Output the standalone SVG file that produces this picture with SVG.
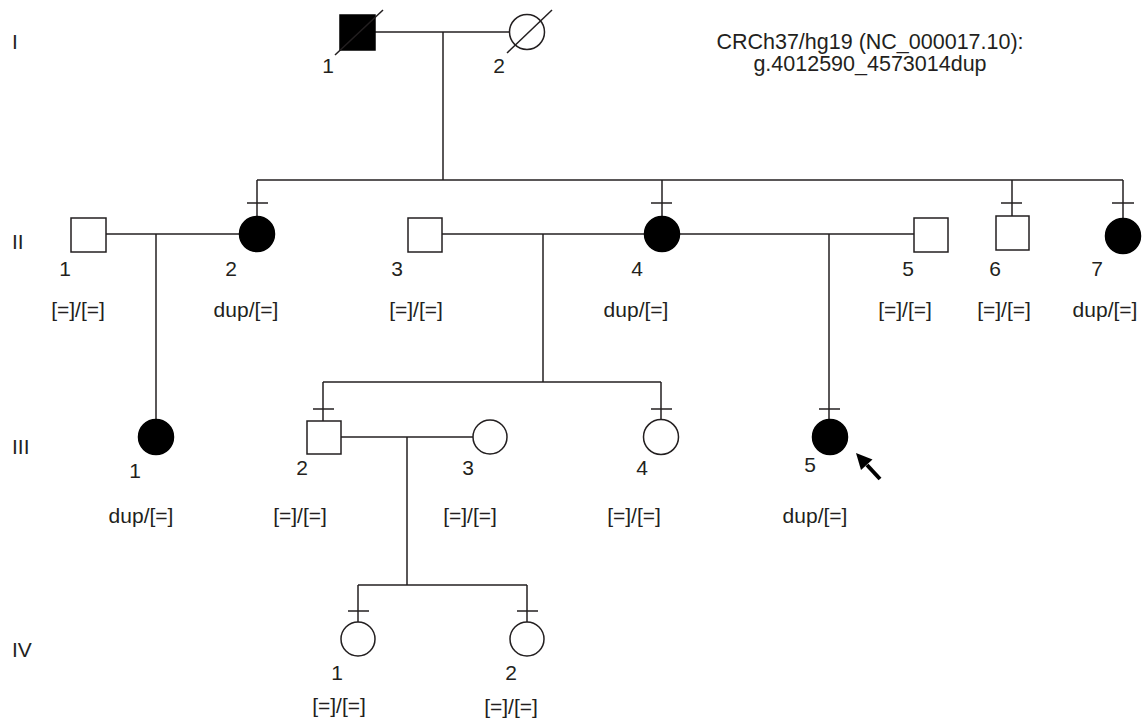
<svg xmlns="http://www.w3.org/2000/svg" width="1142" height="719" viewBox="0 0 1142 719">
<defs>
<style>
text{font-family:"Liberation Sans",Arial,sans-serif;font-size:21px;fill:#231f20}
.c{text-anchor:middle}
.big{font-size:21.5px}
.ln{stroke:#231f20;stroke-width:1.5;fill:none}
.m{fill:#fff;stroke:#231f20;stroke-width:1.5}
.a{fill:#000;stroke:#000;stroke-width:1.5}
</style>
</defs>
<rect width="1142" height="719" fill="#fff"/>
<g id="generations">
<text x="12" y="49">I</text>
<text x="12" y="249">II</text>
<text x="12" y="454">III</text>
<text x="12" y="657">IV</text>
</g>
<g id="variant-label">
<text class="c big" x="870" y="49">CRCh37/hg19 (NC_000017.10):</text>
<text class="c big" x="870" y="71">g.4012590_4573014dup</text>
</g>
<g id="connectors" class="ln">
<path d="M375,32 H510"/>
<path d="M443,32 V180"/>
<path d="M257,180 H1123"/>
<path d="M257,180 V216"/><path d="M247,203 H268"/>
<path d="M662,180 V216"/><path d="M651,203 H672"/>
<path d="M1012,180 V216"/><path d="M1001,203 H1022"/>
<path d="M1123,180 V218"/><path d="M1112,203 H1134"/>
<path d="M106,234 H240"/>
<path d="M156,234 V420"/>
<path d="M442,234 H645"/>
<path d="M543,234 V382"/>
<path d="M679,234 H914"/>
<path d="M829,234 V420"/><path d="M819,409 H840"/>
<path d="M323,382 H661"/>
<path d="M323,382 V421"/><path d="M313,409 H334"/>
<path d="M661,382 V420"/><path d="M651,409 H672"/>
<path d="M341,437 H473"/>
<path d="M407,437 V585"/>
<path d="M358,585 H527"/>
<path d="M358,585 V622"/><path d="M348,611 H369"/>
<path d="M527,585 V622"/><path d="M517,611 H538"/>
</g>
<g id="proband-arrow">
<path d="M880,479 L867,465" stroke="#000" stroke-width="4" fill="none"/>
<polygon points="856,453 872.5,459.5 861,470" fill="#000"/>
</g>
<g id="I-1">
<rect class="a" x="340" y="15" width="35" height="35"/>
<path class="ln" d="M335,55 L383,10"/>
<text class="c" x="328" y="73">1</text>
</g>
<g id="I-2">
<circle class="m" cx="527" cy="32" r="17.5"/>
<path class="ln" d="M507,53 L552,10"/>
<text class="c" x="499" y="73">2</text>
</g>
<g id="II-1">
<rect class="m" x="71" y="218" width="35" height="34"/>
<text class="c" x="65" y="276">1</text>
<text class="c" x="78" y="317">[=]/[=]</text>
</g>
<g id="II-2">
<circle class="a" cx="257" cy="234" r="17.5"/>
<text class="c" x="231" y="276">2</text>
<text class="c" x="246" y="317">dup/[=]</text>
</g>
<g id="II-3">
<rect class="m" x="408" y="218" width="34" height="34"/>
<text class="c" x="397" y="276">3</text>
<text class="c" x="416" y="317">[=]/[=]</text>
</g>
<g id="II-4">
<circle class="a" cx="662" cy="234" r="17.5"/>
<text class="c" x="637" y="276">4</text>
<text class="c" x="636" y="317">dup/[=]</text>
</g>
<g id="II-5">
<rect class="m" x="914" y="218" width="34" height="34"/>
<text class="c" x="908" y="276">5</text>
<text class="c" x="905" y="317">[=]/[=]</text>
</g>
<g id="II-6">
<rect class="m" x="996" y="216" width="33" height="34"/>
<text class="c" x="995" y="276">6</text>
<text class="c" x="1004" y="317">[=]/[=]</text>
</g>
<g id="II-7">
<circle class="a" cx="1123" cy="236" r="17.5"/>
<text class="c" x="1097" y="276">7</text>
<text class="c" x="1105" y="317">dup/[=]</text>
</g>
<g id="III-1">
<circle class="a" cx="156" cy="437" r="17.5"/>
<text class="c" x="135" y="478">1</text>
<text class="c" x="141" y="523">dup/[=]</text>
</g>
<g id="III-2">
<rect class="m" x="307" y="421" width="34" height="33"/>
<text class="c" x="302" y="475">2</text>
<text class="c" x="300" y="523">[=]/[=]</text>
</g>
<g id="III-3">
<circle class="m" cx="490" cy="437" r="17"/>
<text class="c" x="468" y="475">3</text>
<text class="c" x="470" y="523">[=]/[=]</text>
</g>
<g id="III-4">
<circle class="m" cx="661" cy="437" r="17.5"/>
<text class="c" x="642" y="475">4</text>
<text class="c" x="634" y="523">[=]/[=]</text>
</g>
<g id="III-5">
<circle class="a" cx="830" cy="437" r="17.5"/>
<text class="c" x="810" y="472">5</text>
<text class="c" x="815" y="523">dup/[=]</text>
</g>
<g id="IV-1">
<circle class="m" cx="358" cy="639" r="17"/>
<text class="c" x="337" y="680">1</text>
<text class="c" x="339" y="713">[=]/[=]</text>
</g>
<g id="IV-2">
<circle class="m" cx="527" cy="639" r="17"/>
<text class="c" x="511" y="680">2</text>
<text class="c" x="511" y="714">[=]/[=]</text>
</g>
</svg>
